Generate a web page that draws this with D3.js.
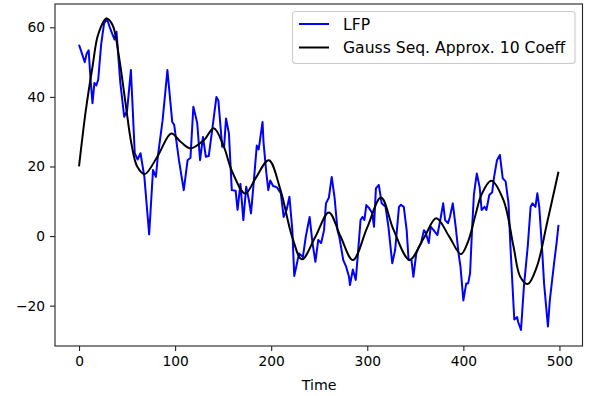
<!DOCTYPE html>
<html>
<head>
<meta charset="utf-8">
<script src="https://cdn.jsdelivr.net/npm/d3@7"></script>
<style>
  html, body { margin: 0; padding: 0; background: #fff; }
  text { font-family: 'DejaVu Sans', sans-serif; fill: #000; }
</style>
</head>
<body>
<svg id="chart" width="590" height="396"></svg>
<script>
// LFP trace (time, value)
const lfpTime = [0, 3, 6, 8, 10, 12, 14, 16, 18, 20, 23, 26, 29, 32, 35, 37, 39, 43, 47, 50, 54, 58, 61, 64, 68, 73,
  77, 80, 82, 87, 92, 97, 99, 104, 109, 113, 116, 119, 123, 126, 129, 132, 135, 139, 143, 145, 149, 151, 153, 156,
  159, 163, 165, 168, 171, 174, 177, 179, 182, 185, 187, 191, 192, 195, 197, 199, 202, 206, 210, 213, 216, 219, 222,
  224, 229, 233, 236, 240, 243, 246, 249, 252, 255, 257, 260, 263, 266, 269, 271, 275, 278, 281, 282, 285, 288, 290,
  293, 295, 297, 299, 302, 305, 307, 309, 312, 315, 319, 322, 326, 329, 333, 335, 338, 341, 343, 346, 348, 351, 353,
  356, 359, 361, 364, 366, 369, 373, 376, 379, 381, 384, 386, 389, 392, 395, 397, 400, 403, 405, 407, 409, 411, 414,
  417, 419, 422, 424, 427, 430, 432, 435, 438, 441, 444, 447, 449, 453, 456, 457, 460, 463, 467, 470, 472, 475, 477,
  479, 482, 484, 488, 490, 494, 497, 499]
const lfpValue = [55, 52.5, 50, 52.5, 53.4, 45, 38.2, 44, 43.3, 45, 55, 61, 62.5, 60, 57.8, 56.5, 58.7, 44, 34.3, 36,
  47.7, 23.8, 22, 23.8, 17, 0.5,
  19, 17, 22.8, 33.3, 47.7, 32.8, 32, 21.8, 13.2, 21.8, 22.5, 37.2, 32.5, 21.8, 28.5, 22.8, 23, 31.4, 40, 39, 25.7,
  25.7, 33.8, 29.5,
  13.2, 13, 7.5, 15, 4.6, 14.2, 10, 6.5, 16, 26, 24.9, 32.8, 27, 18, 13.2, 16, 14.4, 14, 12.3, 5.5, 7.5, 11.3, 1.7,
  -11.5, -5, -6, -0.2, 5.5, -2, -7.4, -1.1, -2, 1.7, 9.4, 11, 17, 11, 1.7, -0.4, -6.9, -8.8, -11.7, -14.1, -9.6, -12.6,
  -6, 4.6, 5.5, 4.6, 8.9, 8, 6.7, 2.7, 13.7, 14.7, 9.4, 8.4, 2.7, -7.8, -4, 8.4, 9, 8.4, 1.7, -6.9, -6.9, -11.7, -5,
  -3.5, -2, 1.7, 0.8, -2, 2.7, 1.7, 0.3, 4.6, 9.4, 4.6, 3.7, 5.5, 9.4, 2.7, -5, -8.8, -18.5, -13.6, -13.6, -10.7, 1.7,
  12, 18, 14, 7.5, 8.4, 7.5, 11.8, 12.6, 17, 21.8, 23.3, 16.6, 15.7, 9.4, -3, -24, -23.3, -24.7, -27, -14.6, -3, 8.4,
  9.4, 8.4, 12.3, 8.4, -4, -13.6, -26, -18.4, -8.8, -2, 3.2]

// Gauss sequence approximation (10 coefficients)
const gaussTime = [0, 7, 14, 20, 28.5, 35, 41.6, 48.5, 54.5, 60.7, 68.3, 81.5, 96, 105.7, 116, 130, 140.3, 150.7,
  159.4, 173, 183.7, 197.5, 209.7, 221.8, 232, 246, 260, 272, 285, 300, 314.3, 327.5, 344, 358.6, 371.8, 385, 397.5,
  405, 413, 419, 429, 441.8, 452.2, 459.2, 467, 476.5, 487, 499]
const gaussValue = [20, 36, 48.6, 58, 62.5, 60.6, 51.5, 38, 26.6, 19.9, 17.8, 22.8, 29.5, 27.1, 25.2, 27.6, 31, 25.7,
  18.5, 12.2, 16.6, 21.8, 13.2, -0.2, -6.7, -0.2, 6.8, 0, -6.9, 2.5, 11.1, 1.7, -6.8, -0.7, 5.1, 0, -5.2,
  -1.5, 6.5, 12, 15.9, 10.3, -3, -11.7, -13.8, -8.8, 3.6, 18.5]

const xTicks = [0, 100, 200, 300, 400, 500]
const yTicks = [-20, 0, 20, 40, 60]
const legendLabels = ['LFP', 'Gauss Seq. Approx. 10 Coeff']
const seriesColors = ['#0000ff', '#000000']

const margin = { left: 55, top: 4, right: 7.5, bottom: 50 }
const width = 590
const height = 396

const svg = d3.select('#chart')
const x = d3.scaleLinear().domain([-25, 524]).range([margin.left, width - margin.right])
const y = d3.scaleLinear().domain([-31.6, 66.7]).range([height - margin.bottom, margin.top])

const lfp = lfpTime.map((t, i) => [t, lfpValue[i]])
const gauss = gaussTime.map((t, i) => [t, gaussValue[i]])

// clip to the axes box
svg.append('defs').append('clipPath').attr('id', 'plot')
  .append('rect')
  .attr('x', margin.left).attr('y', margin.top)
  .attr('width', width - margin.right - margin.left)
  .attr('height', height - margin.bottom - margin.top)

const plot = svg.append('g').attr('clip-path', 'url(#plot)')

plot.append('path')
  .datum(lfp)
  .attr('fill', 'none')
  .attr('stroke', seriesColors[0])
  .attr('stroke-width', 2)
  .attr('stroke-linejoin', 'round')
  .attr('d', d3.line().x(d => x(d[0])).y(d => y(d[1])))

plot.append('path')
  .datum(gauss)
  .attr('fill', 'none')
  .attr('stroke', seriesColors[1])
  .attr('stroke-width', 2)
  .attr('d', d3.line().curve(d3.curveCatmullRom.alpha(0.5)).x(d => x(d[0])).y(d => y(d[1])))

// axes
const xAxis = svg.append('g')
  .attr('transform', `translate(0,${height - margin.bottom})`)
  .call(d3.axisBottom(x).tickValues(xTicks).tickSize(5).tickPadding(5))
const yAxis = svg.append('g')
  .attr('transform', `translate(${margin.left},0)`)
  .call(d3.axisLeft(y).tickValues(yTicks).tickSize(5).tickPadding(5))

;[xAxis, yAxis].forEach(a => {
  a.select('.domain').remove()
  a.selectAll('line').attr('stroke', '#222').attr('stroke-width', 1.1)
  a.selectAll('text').attr('font-size', 13.8).attr('font-family', 'DejaVu Sans').attr('fill', '#222')
})

// spines
svg.append('rect')
  .attr('x', margin.left).attr('y', margin.top)
  .attr('width', width - margin.right - margin.left)
  .attr('height', height - margin.bottom - margin.top)
  .attr('fill', 'none')
  .attr('stroke', '#222')
  .attr('stroke-width', 1.1)

svg.append('text')
  .attr('x', x(250))
  .attr('y', 390)
  .attr('text-anchor', 'middle')
  .attr('font-size', 14.2)
  .attr('fill', '#222')
  .text('Time')

// legend
const legend = svg.append('g')
legend.append('rect')
  .attr('x', 292.5).attr('y', 11.5)
  .attr('width', 282.5).attr('height', 52)
  .attr('rx', 3)
  .attr('fill', '#fff')
  .attr('fill-opacity', 0.8)
  .attr('stroke', '#cccccc')
  .attr('stroke-width', 1.1)

legendLabels.forEach((label, i) => {
  const cy = 24 + i * 23.5
  legend.append('line')
    .attr('x1', 299).attr('x2', 329)
    .attr('y1', cy).attr('y2', cy)
    .attr('stroke', seriesColors[i])
    .attr('stroke-width', 2)
  legend.append('text')
    .attr('x', 343)
    .attr('y', cy)
    .attr('dy', '0.36em')
    .attr('font-size', 15.6)
    .attr('fill', '#222')
    .text(label)
})
</script>
</body>
</html>
